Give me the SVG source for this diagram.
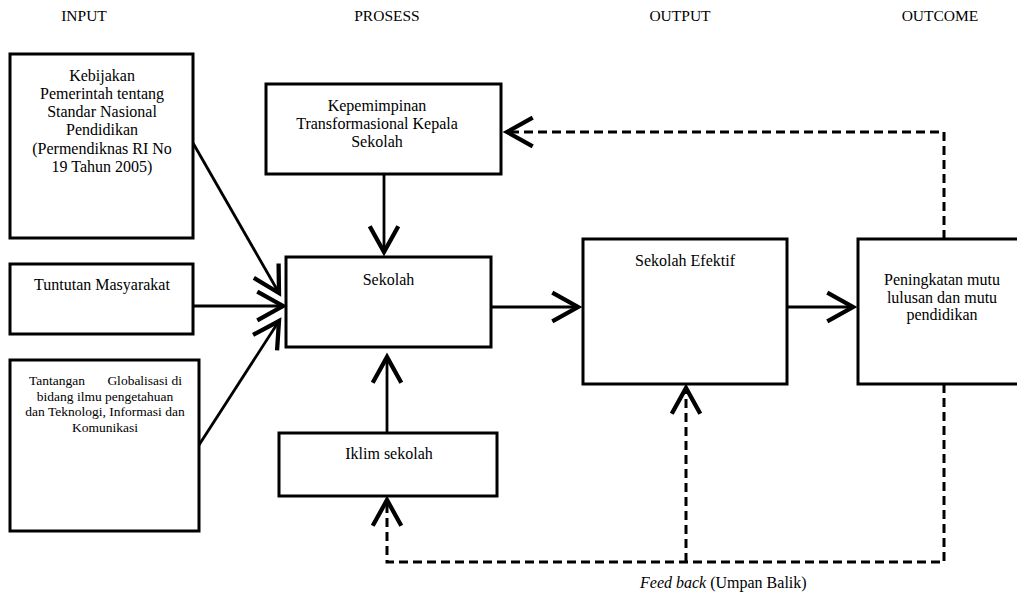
<svg xmlns="http://www.w3.org/2000/svg" width="1017" height="594" viewBox="0 0 1017 594">
<style>
.box{fill:#fff;stroke:#000;stroke-width:3}
.t{font-family:"Liberation Serif","Times New Roman",serif;font-size:16px;fill:#000;text-anchor:middle}
.ts{font-size:13.5px}
.hd{font-family:"Liberation Serif","Times New Roman",serif;font-size:15.5px;fill:#000;text-anchor:middle}
.ln{fill:none;stroke:#000;stroke-width:2.8}
.dash{fill:none;stroke:#000;stroke-width:3;stroke-dasharray:9 5}
</style>
<defs>
<marker id="ah" markerUnits="userSpaceOnUse" markerWidth="40" markerHeight="40" viewBox="-22 -14 26 28" refX="0" refY="0" orient="auto">
<path d="M-18,-10 L0,0 L-18,10" fill="none" stroke="#000" stroke-width="3" stroke-dasharray="none"/>
</marker>
</defs>
<g id="headers">
<text class="hd" x="84" y="21">INPUT</text>
<text class="hd" x="387" y="21">PROSESS</text>
<text class="hd" x="680" y="21">OUTPUT</text>
<text class="hd" x="940" y="21">OUTCOME</text>
</g>
<g id="node-kebijakan">
<rect class="box" x="10" y="54" width="183" height="184"/>
<text class="t"><tspan x="102" y="80.5">Kebijakan</tspan><tspan x="102" y="98.8">Pemerintah tentang</tspan><tspan x="102" y="117.1">Standar Nasional</tspan><tspan x="102" y="135.4">Pendidikan</tspan><tspan x="102" y="153.7">(Permendiknas RI No</tspan><tspan x="102" y="172">19 Tahun 2005)</tspan></text>
</g>
<g id="node-tuntutan">
<rect class="box" x="10" y="264" width="183" height="70"/>
<text class="t" x="102" y="290">Tuntutan Masyarakat</text>
</g>
<g id="node-tantangan">
<rect class="box" x="10" y="360" width="189" height="171"/>
<text class="t ts"><tspan x="29" y="385" style="text-anchor:start">Tantangan</tspan><tspan x="182" y="385" style="text-anchor:end">Globalisasi di</tspan><tspan x="105" y="400.5">bidang ilmu pengetahuan</tspan><tspan x="105" y="416">dan Teknologi, Informasi dan</tspan><tspan x="105" y="431.5">Komunikasi</tspan></text>
</g>
<g id="node-kepemimpinan">
<rect class="box" x="266" y="84" width="235" height="90"/>
<text class="t"><tspan x="377" y="110.5">Kepemimpinan</tspan><tspan x="377" y="128.8">Transformasional Kepala</tspan><tspan x="377" y="147">Sekolah</tspan></text>
</g>
<g id="node-sekolah">
<rect class="box" x="286" y="257" width="205" height="90"/>
<text class="t" x="388.5" y="285">Sekolah</text>
</g>
<g id="node-iklim">
<rect class="box" x="279" y="433" width="218" height="63"/>
<text class="t" x="389" y="459">Iklim sekolah</text>
</g>
<g id="node-efektif">
<rect class="box" x="583" y="239" width="204" height="145"/>
<text class="t" x="685" y="265.5">Sekolah Efektif</text>
</g>
<g id="node-peningkatan">
<rect class="box" x="858" y="239" width="170" height="145"/>
<text class="t"><tspan x="942" y="285">Peningkatan  mutu</tspan><tspan x="942" y="302.5">lulusan dan mutu</tspan><tspan x="942" y="320">pendidikan</tspan></text>
</g>
<g id="connectors">
<line class="ln" x1="193" y1="143" x2="279" y2="293" marker-end="url(#ah)"/>
<line class="ln" x1="193" y1="306" x2="283" y2="306" marker-end="url(#ah)"/>
<line class="ln" x1="199" y1="445" x2="279" y2="321" marker-end="url(#ah)"/>
<line class="ln" x1="384" y1="174" x2="384" y2="252" marker-end="url(#ah)"/>
<line class="ln" x1="387" y1="433" x2="387" y2="357" marker-end="url(#ah)"/>
<line class="ln" x1="491" y1="307" x2="578" y2="307" marker-end="url(#ah)"/>
<line class="ln" x1="787" y1="307" x2="853" y2="307" marker-end="url(#ah)"/>
<path class="dash" d="M944,239 V132 H507" marker-end="url(#ah)"/>
<path class="dash" d="M944,384 V562 H387 V500" marker-end="url(#ah)"/>
<path class="dash" d="M686,562 V388" marker-end="url(#ah)"/>
</g>
<g id="feedback-label">
<text x="640" y="588" style="font-family:'Liberation Serif','Times New Roman',serif;font-size:16px;fill:#000"><tspan font-style="italic">Feed back</tspan>  (Umpan Balik)</text>
</g>
</svg>
